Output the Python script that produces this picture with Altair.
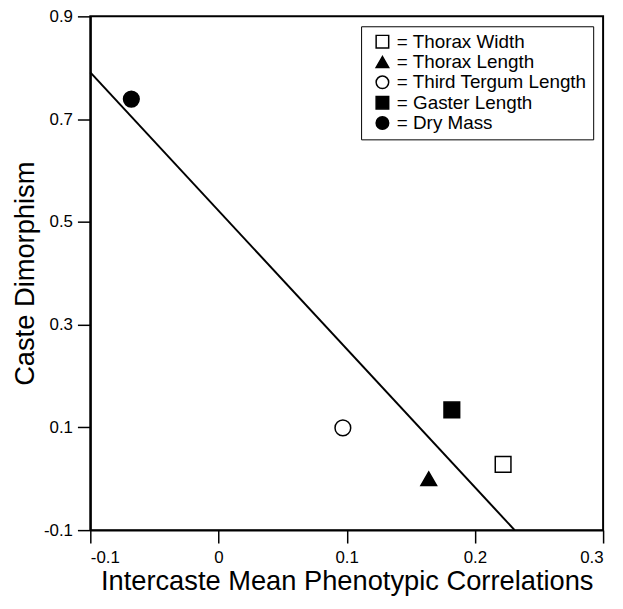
import altair as alt
import pandas as pd

# ---- data ----
traits = ["Thorax Width", "Thorax Length", "Third Tergum Length", "Gaster Length", "Dry Mass"]
correlations = [0.222, 0.164, 0.097, 0.182, -0.068]
dimorphism = [0.028, 0.000, 0.099, 0.134, 0.739]

fit_x = [-0.1, 0.231]
fit_y = [0.791, -0.1]

x_ticks = [-0.1, 0, 0.1, 0.2, 0.3]
y_ticks = [-0.1, 0.1, 0.3, 0.5, 0.7, 0.9]

# ---- styles ----
shapes = ["square", "triangle-up", "circle", "square", "circle"]
fills = ["white", "black", "white", "black", "black"]
strokes = ["black"] * 5

FONT = "Liberation Sans"

pts = pd.DataFrame({"trait": traits, "x": correlations, "y": dimorphism})
fit = pd.DataFrame({"x": fit_x, "y": fit_y})

label_expr = "datum.value < 0 ? '-' + format(-datum.value, '.1~f') : format(datum.value, '.1~f')"

xenc = alt.X(
    "x:Q",
    scale=alt.Scale(domain=[-0.1, 0.3], nice=False, zero=False),
    axis=alt.Axis(values=x_ticks, title="Intercaste Mean Phenotypic Correlations",
                  labelExpr=label_expr, labelPadding=7, titlePadding=2),
)
yenc = alt.Y(
    "y:Q",
    scale=alt.Scale(domain=[-0.1, 0.9], nice=False, zero=False),
    axis=alt.Axis(values=y_ticks, title="Caste Dimorphism",
                  labelExpr=label_expr, labelPadding=5, titlePadding=4),
)

line = alt.Chart(fit).mark_line(color="black", strokeWidth=2).encode(x=xenc, y=yenc)

leg = alt.Legend(labelExpr="'= ' + datum.label", labelLimit=400)

points = alt.Chart(pts).mark_point(
    filled=True, strokeWidth=1.5, opacity=1, size=250
).encode(
    x="x:Q",
    y="y:Q",
    shape=alt.Shape("trait:N", scale=alt.Scale(domain=traits, range=shapes), title="", legend=leg),
    fill=alt.Fill("trait:N", scale=alt.Scale(domain=traits, range=fills), title="", legend=leg),
    stroke=alt.Stroke("trait:N", scale=alt.Scale(domain=traits, range=strokes), title="", legend=leg),
)

chart = (
    alt.layer(line, points)
    .properties(
        width=517,
        height=518,
        autosize=alt.AutoSizeParams(type="none"),
        padding={"left": 83, "top": 6, "right": 12, "bottom": 66},
        background="white",
    )
    .configure_view(stroke="black", strokeWidth=2)
    .configure_axis(
        grid=False,
        domainColor="black",
        domainWidth=2,
        tickColor="black",
        tickWidth=1.5,
        tickSize=13,
        labelFont=FONT,
        labelFontSize=17,
        labelColor="black",
        titleFont=FONT,
        titleFontSize=27.5,
        titleFontWeight="normal",
        titleColor="black",
    )
    .configure_legend(
        orient="none",
        legendX=273,
        legendY=10,
        strokeColor="black",
        padding=6,
        symbolOffset=6,
        labelFont=FONT,
        labelFontSize=19,
        labelColor="black",
        labelOffset=5,
        symbolSize=160,
        symbolStrokeWidth=1.5,
        rowPadding=0.5,
    )
)

chart.save("out.html", embed_options={"renderer": "svg", "actions": False})
